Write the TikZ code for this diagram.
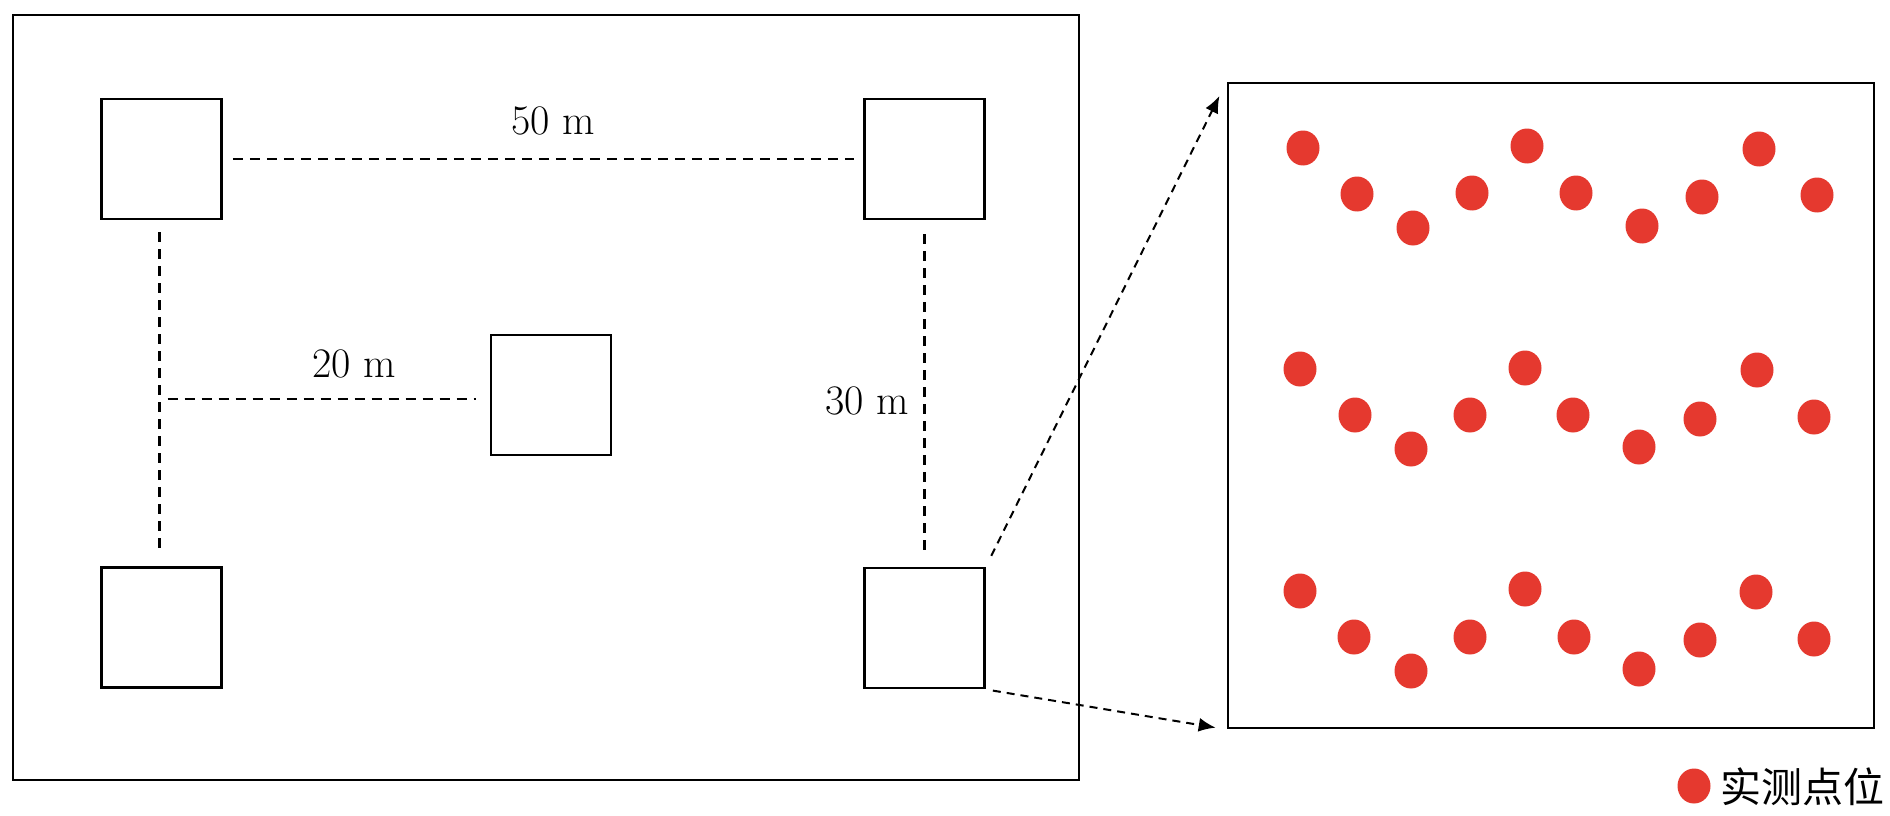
\documentclass[tikz,border=0pt]{standalone}
\usepackage{fontspec}
\newfontfamily\cjk{Noto Sans CJK SC}
\usetikzlibrary{arrows.meta,shapes.geometric}
\definecolor{ptred}{RGB}{229,57,47}
\begin{document}
\begin{tikzpicture}[x=1pt,y=-1pt,
  frame/.style={draw, line width=2.9pt, inner sep=0pt},
  bldg/.style={draw, line width=2.9pt, minimum size=120pt, inner sep=0pt},
  dim/.style={line width=2.5pt, dash pattern=on 10pt off 7pt},
  zoomarrow/.style={line width=2pt, dash pattern=on 8pt off 6pt, -{Latex[length=17pt,width=14pt]}},
  lbl/.style={inner sep=0pt, font=\fontsize{42}{50}\selectfont},
  dot/.style={fill=ptred}
]
\fill[white] (0,0) rectangle (1890,816);
\useasboundingbox (0,0) rectangle (1890,816);

% site frame and zoom frame
\node[frame, minimum width=1066pt, minimum height=765pt] (site) at (546,397.5) {};
\node[frame, minimum width=646pt, minimum height=645pt] (RB) at (1551,405.5) {};

% buildings
\node[bldg] (TL) at (161.5,159) {};
\node[bldg] (TR) at (924.5,159) {};
\node[bldg] (MID) at (551,395) {};
\node[bldg] (BL) at (161.5,627.5) {};
\node[bldg] (BR) at (924.5,628) {};

% dimension lines
\draw[dim, shorten <=10pt, shorten >=9pt] (TL.east) -- (TR.west);
\draw[dim, shorten <=12pt, shorten >=14pt] ([xshift=-2pt]TL.south) -- ([xshift=-2pt]BL.north);
\draw[dim, shorten <=14pt, shorten >=10pt] (TR.south) -- (BR.north);
\coordinate (Mend) at ([yshift=-4pt]MID.west);
\coordinate (J) at ([xshift=-2pt]TL.south |- Mend);
\draw[dim, shorten <=8pt, shorten >=14pt] (J) -- (Mend);

% labels
\node[lbl] (l50) at (553,121) {50 m};
\node[lbl] (l20) at (354,364) {20 m};
\node[lbl] (l30) at (867,401) {30 m};

% zoom arrows
\draw[zoomarrow, shorten <=12pt, shorten >=16pt] (BR.north east) -- (RB.north west);
\draw[zoomarrow, shorten <=7pt, shorten >=11pt] (BR.south east) -- (RB.south west);

% measuring points
\foreach \x/\y in {1303/148,1357/194,1413/228,1472/193,1527/146,1576/193,1642/226,1702/197,1759/149,1817/195,
                   1300/369,1355/415,1411/449,1470/415,1525/368,1573/415,1639/447,1700/419,1757/370,1814/417,
                   1300/591,1354/637,1411/671,1470/637,1525/589,1574/637,1639/669,1700/640,1756/592,1814/639}
  \fill[dot] (\x,\y) ellipse [x radius=16.5pt, y radius=17.5pt];

% legend
\node[dot, ellipse, minimum width=33pt, minimum height=35pt, inner sep=0pt] (legdot) at (1694,786) {};
\node[anchor=west, inner sep=0pt, font=\cjk\fontsize{41}{41}\selectfont] (legtxt) at (1720,787) {实测点位};
\end{tikzpicture}
\end{document}
